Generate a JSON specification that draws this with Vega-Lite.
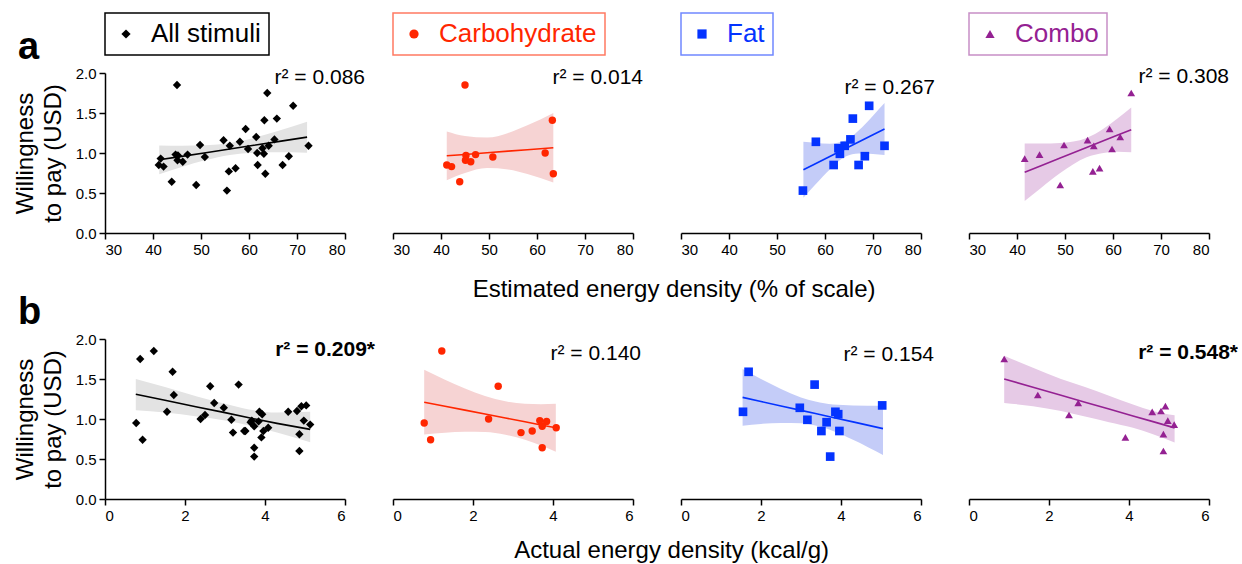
{
"$schema": "https://vega.github.io/schema/vega-lite/v6.json",
"padding": {"left": 13, "top": 12, "right": 0, "bottom": 0},
"background": "white",
"config": {
  "font": "Liberation Sans",
  "view": {"stroke": null},
  "axis": {"grid": false, "domainColor": "#000", "domainWidth": 1.5, "tickColor": "#000", "tickWidth": 1.5, "tickSize": 6, "labelFontSize": 15, "labelColor": "#000", "labelFont": "Liberation Sans", "titleFont": "Liberation Sans", "titleFontSize": 24, "titleFontWeight": "normal", "titleColor": "#000", "labelPadding": 3, "labelOverlap": false},
  "axisX": {"values": [30, 40, 50, 60, 70, 80], "title": null},
  "axisY": {"values": [0, 0.5, 1, 1.5, 2], "format": ".1f", "titlePadding": 10, "titleLineHeight": 28},
  "title": {"font": "Liberation Sans", "fontSize": 24, "fontWeight": "normal", "color": "#000"},
  "legend": {"title": null, "orient": "top", "offset": 18, "padding": 8, "labelFontSize": 26, "labelFont": "Liberation Sans", "labelOffset": 12, "symbolSize": 85, "symbolStrokeWidth": 0, "strokeWidth": 1.5}
},
"datasets": {
  "stim": [
    {"group": "Carbohydrate", "est": 45.0, "act": 1.22, "wtp": 1.85},
    {"group": "Carbohydrate", "est": 63.2, "act": 2.63, "wtp": 1.41},
    {"group": "Carbohydrate", "est": 61.7, "act": 2.39, "wtp": 1.00},
    {"group": "Carbohydrate", "est": 47.2, "act": 3.67, "wtp": 0.98},
    {"group": "Carbohydrate", "est": 45.2, "act": 3.84, "wtp": 0.97},
    {"group": "Carbohydrate", "est": 50.8, "act": 0.78, "wtp": 0.95},
    {"group": "Carbohydrate", "est": 45.1, "act": 3.73, "wtp": 0.91},
    {"group": "Carbohydrate", "est": 46.2, "act": 4.08, "wtp": 0.89},
    {"group": "Carbohydrate", "est": 41.2, "act": 3.48, "wtp": 0.85},
    {"group": "Carbohydrate", "est": 42.2, "act": 3.20, "wtp": 0.83},
    {"group": "Carbohydrate", "est": 63.4, "act": 0.94, "wtp": 0.74},
    {"group": "Carbohydrate", "est": 43.9, "act": 3.73, "wtp": 0.64},
    {"group": "Fat", "est": 69.2, "act": 1.69, "wtp": 1.59},
    {"group": "Fat", "est": 65.8, "act": 3.34, "wtp": 1.43},
    {"group": "Fat", "est": 65.3, "act": 5.03, "wtp": 1.17},
    {"group": "Fat", "est": 58.1, "act": 2.97, "wtp": 1.14},
    {"group": "Fat", "est": 72.4, "act": 1.55, "wtp": 1.09},
    {"group": "Fat", "est": 64.1, "act": 3.86, "wtp": 1.09},
    {"group": "Fat", "est": 62.8, "act": 3.93, "wtp": 1.06},
    {"group": "Fat", "est": 63.1, "act": 3.16, "wtp": 0.99},
    {"group": "Fat", "est": 68.3, "act": 3.64, "wtp": 0.96},
    {"group": "Fat", "est": 61.8, "act": 3.51, "wtp": 0.85},
    {"group": "Fat", "est": 67.0, "act": 3.96, "wtp": 0.85},
    {"group": "Fat", "est": 55.4, "act": 3.73, "wtp": 0.53},
    {"group": "Combo", "est": 63.8, "act": 0.88, "wtp": 1.75},
    {"group": "Combo", "est": 59.3, "act": 1.72, "wtp": 1.30},
    {"group": "Combo", "est": 61.5, "act": 2.73, "wtp": 1.20},
    {"group": "Combo", "est": 59.8, "act": 2.50, "wtp": 1.05},
    {"group": "Combo", "est": 54.7, "act": 4.91, "wtp": 1.16},
    {"group": "Combo", "est": 49.8, "act": 4.80, "wtp": 1.10},
    {"group": "Combo", "est": 56.0, "act": 4.58, "wtp": 1.09},
    {"group": "Combo", "est": 44.7, "act": 4.97, "wtp": 0.98},
    {"group": "Combo", "est": 41.6, "act": 5.13, "wtp": 0.93},
    {"group": "Combo", "est": 57.2, "act": 4.86, "wtp": 0.81},
    {"group": "Combo", "est": 55.8, "act": 3.91, "wtp": 0.77},
    {"group": "Combo", "est": 49.0, "act": 4.86, "wtp": 0.60}
  ],
  "band": [
    {"row": "a", "group": "All", "x": 41.3, "lo": 0.735, "hi": 1.095, "fit": 0.915},
    {"row": "a", "group": "All", "x": 46, "lo": 0.824, "hi": 1.092, "fit": 0.958},
    {"row": "a", "group": "All", "x": 51, "lo": 0.911, "hi": 1.097, "fit": 1.004},
    {"row": "a", "group": "All", "x": 56, "lo": 0.975, "hi": 1.125, "fit": 1.050},
    {"row": "a", "group": "All", "x": 61, "lo": 1.003, "hi": 1.189, "fit": 1.096},
    {"row": "a", "group": "All", "x": 66, "lo": 1.008, "hi": 1.276, "fit": 1.142},
    {"row": "a", "group": "All", "x": 72.1, "lo": 1.004, "hi": 1.392, "fit": 1.198},
    {"row": "a", "group": "Carbohydrate", "x": 41.2, "lo": 0.66, "hi": 1.27, "fit": 0.965},
    {"row": "a", "group": "Carbohydrate", "x": 45, "lo": 0.751, "hi": 1.213, "fit": 0.982},
    {"row": "a", "group": "Carbohydrate", "x": 49.6, "lo": 0.813, "hi": 1.193, "fit": 1.003},
    {"row": "a", "group": "Carbohydrate", "x": 54, "lo": 0.795, "hi": 1.251, "fit": 1.023},
    {"row": "a", "group": "Carbohydrate", "x": 58, "lo": 0.736, "hi": 1.346, "fit": 1.041},
    {"row": "a", "group": "Carbohydrate", "x": 63.4, "lo": 0.63, "hi": 1.50, "fit": 1.065},
    {"row": "a", "group": "Fat", "x": 55.5, "lo": 0.44, "hi": 1.14, "fit": 0.79},
    {"row": "a", "group": "Fat", "x": 58, "lo": 0.606, "hi": 1.126, "fit": 0.866},
    {"row": "a", "group": "Fat", "x": 61, "lo": 0.795, "hi": 1.117, "fit": 0.956},
    {"row": "a", "group": "Fat", "x": 64.3, "lo": 0.956, "hi": 1.156, "fit": 1.056},
    {"row": "a", "group": "Fat", "x": 67, "lo": 0.994, "hi": 1.28, "fit": 1.137},
    {"row": "a", "group": "Fat", "x": 70, "lo": 0.989, "hi": 1.467, "fit": 1.228},
    {"row": "a", "group": "Fat", "x": 72.4, "lo": 0.976, "hi": 1.624, "fit": 1.30},
    {"row": "a", "group": "Combo", "x": 41.6, "lo": 0.40, "hi": 1.12, "fit": 0.76},
    {"row": "a", "group": "Combo", "x": 45, "lo": 0.564, "hi": 1.118, "fit": 0.841},
    {"row": "a", "group": "Combo", "x": 49, "lo": 0.749, "hi": 1.125, "fit": 0.937},
    {"row": "a", "group": "Combo", "x": 54.5, "lo": 0.948, "hi": 1.188, "fit": 1.068},
    {"row": "a", "group": "Combo", "x": 58, "lo": 1.001, "hi": 1.303, "fit": 1.152},
    {"row": "a", "group": "Combo", "x": 61, "lo": 1.016, "hi": 1.434, "fit": 1.225},
    {"row": "a", "group": "Combo", "x": 63.8, "lo": 1.01, "hi": 1.57, "fit": 1.29},
    {"row": "b", "group": "All", "x": 0.77, "lo": 1.11, "hi": 1.50, "fit": 1.31},
    {"row": "b", "group": "All", "x": 1.5, "lo": 1.08, "hi": 1.40, "fit": 1.235},
    {"row": "b", "group": "All", "x": 2.3, "lo": 1.03, "hi": 1.28, "fit": 1.15},
    {"row": "b", "group": "All", "x": 3.0, "lo": 0.98, "hi": 1.19, "fit": 1.08},
    {"row": "b", "group": "All", "x": 3.6, "lo": 0.92, "hi": 1.12, "fit": 1.015},
    {"row": "b", "group": "All", "x": 4.3, "lo": 0.83, "hi": 1.08, "fit": 0.945},
    {"row": "b", "group": "All", "x": 5.13, "lo": 0.71, "hi": 1.09, "fit": 0.87},
    {"row": "b", "group": "Carbohydrate", "x": 0.78, "lo": 0.805, "hi": 1.615, "fit": 1.21},
    {"row": "b", "group": "Carbohydrate", "x": 1.3, "lo": 0.827, "hi": 1.491, "fit": 1.159},
    {"row": "b", "group": "Carbohydrate", "x": 1.8, "lo": 0.84, "hi": 1.382, "fit": 1.111},
    {"row": "b", "group": "Carbohydrate", "x": 2.3, "lo": 0.836, "hi": 1.288, "fit": 1.062},
    {"row": "b", "group": "Carbohydrate", "x": 2.81, "lo": 0.803, "hi": 1.221, "fit": 1.012},
    {"row": "b", "group": "Carbohydrate", "x": 3.3, "lo": 0.74, "hi": 1.19, "fit": 0.965},
    {"row": "b", "group": "Carbohydrate", "x": 3.7, "lo": 0.668, "hi": 1.184, "fit": 0.926},
    {"row": "b", "group": "Carbohydrate", "x": 4.07, "lo": 0.59, "hi": 1.19, "fit": 0.89},
    {"row": "b", "group": "Fat", "x": 1.54, "lo": 0.916, "hi": 1.624, "fit": 1.27},
    {"row": "b", "group": "Fat", "x": 2.0, "lo": 0.939, "hi": 1.499, "fit": 1.219},
    {"row": "b", "group": "Fat", "x": 2.5, "lo": 0.951, "hi": 1.375, "fit": 1.163},
    {"row": "b", "group": "Fat", "x": 3.0, "lo": 0.946, "hi": 1.27, "fit": 1.108},
    {"row": "b", "group": "Fat", "x": 3.36, "lo": 0.918, "hi": 1.218, "fit": 1.068},
    {"row": "b", "group": "Fat", "x": 3.8, "lo": 0.851, "hi": 1.18, "fit": 1.019},
    {"row": "b", "group": "Fat", "x": 4.3, "lo": 0.742, "hi": 1.17, "fit": 0.964},
    {"row": "b", "group": "Fat", "x": 5.05, "lo": 0.55, "hi": 1.165, "fit": 0.88},
    {"row": "b", "group": "Combo", "x": 0.88, "lo": 1.20, "hi": 1.79, "fit": 1.50},
    {"row": "b", "group": "Combo", "x": 1.6, "lo": 1.16, "hi": 1.64, "fit": 1.397},
    {"row": "b", "group": "Combo", "x": 2.3, "lo": 1.10, "hi": 1.50, "fit": 1.296},
    {"row": "b", "group": "Combo", "x": 2.9, "lo": 1.03, "hi": 1.40, "fit": 1.21},
    {"row": "b", "group": "Combo", "x": 3.5, "lo": 0.96, "hi": 1.29, "fit": 1.124},
    {"row": "b", "group": "Combo", "x": 4.1, "lo": 0.89, "hi": 1.18, "fit": 1.038},
    {"row": "b", "group": "Combo", "x": 4.6, "lo": 0.81, "hi": 1.10, "fit": 0.967},
    {"row": "b", "group": "Combo", "x": 5.14, "lo": 0.706, "hi": 1.046, "fit": 0.889}
  ],
  "stats": [
    {"row": "a", "group": "All", "label": "r² = 0.086"},
    {"row": "a", "group": "Carbohydrate", "label": "r² = 0.014"},
    {"row": "a", "group": "Fat", "label": "r² = 0.267"},
    {"row": "a", "group": "Combo", "label": "r² = 0.308"},
    {"row": "b", "group": "All", "label": "r² = 0.209*"},
    {"row": "b", "group": "Carbohydrate", "label": "r² = 0.140"},
    {"row": "b", "group": "Fat", "label": "r² = 0.154"},
    {"row": "b", "group": "Combo", "label": "r² = 0.548*"}
  ],
  "letters": [{"row": "a"}, {"row": "b"}]
},
"vconcat": [
 {
  "title": {"text": "Estimated energy density (% of scale)", "orient": "bottom", "anchor": "middle", "frame": "bounds", "offset": 21, "dx": 53},
  "bounds": "flush",
  "spacing": 48,
  "resolve": {"scale": {"color": "independent"}, "legend": {"color": "independent"}},
  "hconcat": [
   {"width": 240, "height": 160, "layer": [
     {"data": {"name": "band"}, "transform": [{"filter": "datum.row === 'a' && datum.group === 'All'"}],
      "mark": {"type": "area", "color": "#e3e3e3", "opacity": 1, "interpolate": "monotone"},
      "encoding": {"x": {"field": "x", "type": "quantitative", "scale": {"domain": [30, 80], "nice": false}, "title": null},
        "y": {"field": "lo", "type": "quantitative", "scale": {"domain": [0, 2], "nice": false}, "title": ["Willingness", "to pay (USD)"]}, "y2": {"field": "hi"}}},
     {"data": {"name": "band"}, "transform": [{"filter": "datum.row === 'a' && datum.group === 'All'"}],
      "mark": {"type": "line", "color": "#000", "strokeWidth": 1.6},
      "encoding": {"x": {"field": "x", "type": "quantitative", "title": null}, "y": {"field": "fit", "type": "quantitative", "title": ["Willingness", "to pay (USD)"]}}},
     {"data": {"name": "stim"},
      "mark": {"type": "point", "filled": true, "opacity": 1, "shape": "diamond", "size": 70},
      "encoding": {"x": {"field": "est", "type": "quantitative", "title": null},
        "y": {"field": "wtp", "type": "quantitative", "title": ["Willingness", "to pay (USD)"]},
        "color": {"datum": "All stimuli", "scale": {"range": ["#000000"]}, "legend": {"strokeColor": "#000000", "labelColor": "#000000", "symbolType": "diamond"}}}},
     {"data": {"name": "stats"}, "transform": [{"filter": "datum.row === 'a' && datum.group === 'All'"}],
      "mark": {"type": "text", "align": "right", "baseline": "alphabetic", "dx": 20, "dy": 11, "fontSize": 21, "color": "#000"},
      "encoding": {"x": {"datum": 80, "title": null}, "y": {"datum": 2, "title": ["Willingness", "to pay (USD)"]}, "text": {"field": "label"}}},
     {"data": {"name": "letters"}, "transform": [{"filter": "datum.row === 'a'"}],
      "mark": {"type": "text", "align": "left", "baseline": "alphabetic", "dx": -87, "dy": -14, "fontSize": 38, "fontWeight": "bold", "color": "#000"},
      "encoding": {"x": {"datum": 30, "title": null}, "y": {"datum": 2, "title": ["Willingness", "to pay (USD)"]}, "text": {"field": "row"}}}
   ]},
   {"width": 240, "height": 160, "layer": [
     {"data": {"name": "band"}, "transform": [{"filter": "datum.row === 'a' && datum.group === 'Carbohydrate'"}],
      "mark": {"type": "area", "color": "#f6d3d3", "opacity": 1, "interpolate": "monotone"},
      "encoding": {"x": {"field": "x", "type": "quantitative", "scale": {"domain": [30, 80], "nice": false}, "title": null}, "y": {"field": "lo", "type": "quantitative", "scale": {"domain": [0, 2], "nice": false}, "axis": null}, "y2": {"field": "hi"}}},
     {"data": {"name": "band"}, "transform": [{"filter": "datum.row === 'a' && datum.group === 'Carbohydrate'"}],
      "mark": {"type": "line", "color": "#ff2600", "strokeWidth": 1.6},
      "encoding": {"x": {"field": "x", "type": "quantitative", "title": null}, "y": {"field": "fit", "type": "quantitative", "axis": null}}},
     {"data": {"name": "stim"}, "transform": [{"filter": "datum.group === 'Carbohydrate'"}],
      "mark": {"type": "point", "filled": true, "opacity": 1, "shape": "circle", "size": 55},
      "encoding": {"x": {"field": "est", "type": "quantitative", "title": null},
        "y": {"field": "wtp", "type": "quantitative", "axis": null},
        "color": {"datum": "Carbohydrate", "scale": {"range": ["#ff2600"]}, "legend": {"strokeColor": "#ff7a62", "labelColor": "#ff2600", "symbolType": "circle"}}}},
     {"data": {"name": "stats"}, "transform": [{"filter": "datum.row === 'a' && datum.group === 'Carbohydrate'"}],
      "mark": {"type": "text", "align": "right", "baseline": "alphabetic", "dx": 10, "dy": 11, "fontSize": 21, "color": "#000"},
      "encoding": {"x": {"datum": 80, "title": null}, "y": {"datum": 2, "axis": null}, "text": {"field": "label"}}}
   ]},
   {"width": 240, "height": 160, "layer": [
     {"data": {"name": "band"}, "transform": [{"filter": "datum.row === 'a' && datum.group === 'Fat'"}],
      "mark": {"type": "area", "color": "#c4ccf8", "opacity": 1, "interpolate": "monotone"},
      "encoding": {"x": {"field": "x", "type": "quantitative", "scale": {"domain": [30, 80], "nice": false}, "title": null}, "y": {"field": "lo", "type": "quantitative", "scale": {"domain": [0, 2], "nice": false}, "axis": null}, "y2": {"field": "hi"}}},
     {"data": {"name": "band"}, "transform": [{"filter": "datum.row === 'a' && datum.group === 'Fat'"}],
      "mark": {"type": "line", "color": "#0433ff", "strokeWidth": 1.6},
      "encoding": {"x": {"field": "x", "type": "quantitative", "title": null}, "y": {"field": "fit", "type": "quantitative", "axis": null}}},
     {"data": {"name": "stim"}, "transform": [{"filter": "datum.group === 'Fat'"}],
      "mark": {"type": "point", "filled": true, "opacity": 1, "shape": "square", "size": 75},
      "encoding": {"x": {"field": "est", "type": "quantitative", "title": null},
        "y": {"field": "wtp", "type": "quantitative", "axis": null},
        "color": {"datum": "Fat", "scale": {"range": ["#0433ff"]}, "legend": {"strokeColor": "#7088ff", "labelColor": "#0433ff", "symbolType": "square"}}}},
     {"data": {"name": "stats"}, "transform": [{"filter": "datum.row === 'a' && datum.group === 'Fat'"}],
      "mark": {"type": "text", "align": "right", "baseline": "alphabetic", "dx": 14, "dy": 21, "fontSize": 21, "color": "#000"},
      "encoding": {"x": {"datum": 80, "title": null}, "y": {"datum": 2, "axis": null}, "text": {"field": "label"}}}
   ]},
   {"width": 240, "height": 160, "layer": [
     {"data": {"name": "band"}, "transform": [{"filter": "datum.row === 'a' && datum.group === 'Combo'"}],
      "mark": {"type": "area", "color": "#e6cae6", "opacity": 1, "interpolate": "monotone"},
      "encoding": {"x": {"field": "x", "type": "quantitative", "scale": {"domain": [30, 80], "nice": false}, "title": null}, "y": {"field": "lo", "type": "quantitative", "scale": {"domain": [0, 2], "nice": false}, "axis": null}, "y2": {"field": "hi"}}},
     {"data": {"name": "band"}, "transform": [{"filter": "datum.row === 'a' && datum.group === 'Combo'"}],
      "mark": {"type": "line", "color": "#942192", "strokeWidth": 1.6},
      "encoding": {"x": {"field": "x", "type": "quantitative", "title": null}, "y": {"field": "fit", "type": "quantitative", "axis": null}}},
     {"data": {"name": "stim"}, "transform": [{"filter": "datum.group === 'Combo'"}],
      "mark": {"type": "point", "filled": true, "opacity": 1, "shape": "triangle-up", "size": 60},
      "encoding": {"x": {"field": "est", "type": "quantitative", "title": null},
        "y": {"field": "wtp", "type": "quantitative", "axis": null},
        "color": {"datum": "Combo", "scale": {"range": ["#942192"]}, "legend": {"strokeColor": "#c78fc6", "labelColor": "#942192", "symbolType": "triangle-up"}}}},
     {"data": {"name": "stats"}, "transform": [{"filter": "datum.row === 'a' && datum.group === 'Combo'"}],
      "mark": {"type": "text", "align": "right", "baseline": "alphabetic", "dx": 20, "dy": 10, "fontSize": 21, "color": "#000"},
      "encoding": {"x": {"datum": 80, "title": null}, "y": {"datum": 2, "axis": null}, "text": {"field": "label"}}}
   ]}
  ]
 },
 {
  "title": {"text": "Actual energy density (kcal/g)", "orient": "bottom", "anchor": "middle", "frame": "bounds", "offset": 16, "dx": 46},
  "bounds": "flush",
  "spacing": 48,
  "hconcat": [
   {"width": 240, "height": 160, "layer": [
     {"data": {"name": "band"}, "transform": [{"filter": "datum.row === 'b' && datum.group === 'All'"}],
      "mark": {"type": "area", "color": "#e3e3e3", "opacity": 1, "interpolate": "monotone"},
      "encoding": {"x": {"field": "x", "type": "quantitative", "scale": {"domain": [0, 6], "nice": false}, "axis": {"values": [0, 2, 4, 6]}, "title": null},
        "y": {"field": "lo", "type": "quantitative", "scale": {"domain": [0, 2], "nice": false}, "title": ["Willingness", "to pay (USD)"]}, "y2": {"field": "hi"}}},
     {"data": {"name": "band"}, "transform": [{"filter": "datum.row === 'b' && datum.group === 'All'"}],
      "mark": {"type": "line", "color": "#000", "strokeWidth": 1.6},
      "encoding": {"x": {"field": "x", "type": "quantitative", "title": null}, "y": {"field": "fit", "type": "quantitative", "title": ["Willingness", "to pay (USD)"]}}},
     {"data": {"name": "stim"},
      "mark": {"type": "point", "filled": true, "opacity": 1, "shape": "diamond", "size": 70, "color": "#000"},
      "encoding": {"x": {"field": "act", "type": "quantitative", "title": null},
        "y": {"field": "wtp", "type": "quantitative", "title": ["Willingness", "to pay (USD)"]}}},
     {"data": {"name": "stats"}, "transform": [{"filter": "datum.row === 'b' && datum.group === 'All'"}],
      "mark": {"type": "text", "align": "right", "baseline": "alphabetic", "dx": 30, "dy": 17, "fontSize": 21, "fontWeight": "bold", "color": "#000"},
      "encoding": {"x": {"datum": 6, "title": null}, "y": {"datum": 2, "title": ["Willingness", "to pay (USD)"]}, "text": {"field": "label"}}},
     {"data": {"name": "letters"}, "transform": [{"filter": "datum.row === 'b'"}],
      "mark": {"type": "text", "align": "left", "baseline": "alphabetic", "dx": -87, "dy": -15, "fontSize": 38, "fontWeight": "bold", "color": "#000"},
      "encoding": {"x": {"datum": 0, "title": null}, "y": {"datum": 2, "title": ["Willingness", "to pay (USD)"]}, "text": {"field": "row"}}}
   ]},
   {"width": 240, "height": 160, "layer": [
     {"data": {"name": "band"}, "transform": [{"filter": "datum.row === 'b' && datum.group === 'Carbohydrate'"}],
      "mark": {"type": "area", "color": "#f6d3d3", "opacity": 1, "interpolate": "monotone"},
      "encoding": {"x": {"field": "x", "type": "quantitative", "scale": {"domain": [0, 6], "nice": false}, "axis": {"values": [0, 2, 4, 6]}, "title": null}, "y": {"field": "lo", "type": "quantitative", "scale": {"domain": [0, 2], "nice": false}, "axis": null}, "y2": {"field": "hi"}}},
     {"data": {"name": "band"}, "transform": [{"filter": "datum.row === 'b' && datum.group === 'Carbohydrate'"}],
      "mark": {"type": "line", "color": "#ff2600", "strokeWidth": 1.6},
      "encoding": {"x": {"field": "x", "type": "quantitative", "title": null}, "y": {"field": "fit", "type": "quantitative", "axis": null}}},
     {"data": {"name": "stim"}, "transform": [{"filter": "datum.group === 'Carbohydrate'"}],
      "mark": {"type": "point", "filled": true, "opacity": 1, "shape": "circle", "size": 55, "color": "#ff2600"},
      "encoding": {"x": {"field": "act", "type": "quantitative", "title": null},
        "y": {"field": "wtp", "type": "quantitative", "axis": null}}},
     {"data": {"name": "stats"}, "transform": [{"filter": "datum.row === 'b' && datum.group === 'Carbohydrate'"}],
      "mark": {"type": "text", "align": "right", "baseline": "alphabetic", "dx": 8, "dy": 21, "fontSize": 21, "color": "#000"},
      "encoding": {"x": {"datum": 6, "title": null}, "y": {"datum": 2, "axis": null}, "text": {"field": "label"}}}
   ]},
   {"width": 240, "height": 160, "layer": [
     {"data": {"name": "band"}, "transform": [{"filter": "datum.row === 'b' && datum.group === 'Fat'"}],
      "mark": {"type": "area", "color": "#c4ccf8", "opacity": 1, "interpolate": "monotone"},
      "encoding": {"x": {"field": "x", "type": "quantitative", "scale": {"domain": [0, 6], "nice": false}, "axis": {"values": [0, 2, 4, 6]}, "title": null}, "y": {"field": "lo", "type": "quantitative", "scale": {"domain": [0, 2], "nice": false}, "axis": null}, "y2": {"field": "hi"}}},
     {"data": {"name": "band"}, "transform": [{"filter": "datum.row === 'b' && datum.group === 'Fat'"}],
      "mark": {"type": "line", "color": "#0433ff", "strokeWidth": 1.6},
      "encoding": {"x": {"field": "x", "type": "quantitative", "title": null}, "y": {"field": "fit", "type": "quantitative", "axis": null}}},
     {"data": {"name": "stim"}, "transform": [{"filter": "datum.group === 'Fat'"}],
      "mark": {"type": "point", "filled": true, "opacity": 1, "shape": "square", "size": 75, "color": "#0433ff"},
      "encoding": {"x": {"field": "act", "type": "quantitative", "title": null},
        "y": {"field": "wtp", "type": "quantitative", "axis": null}}},
     {"data": {"name": "stats"}, "transform": [{"filter": "datum.row === 'b' && datum.group === 'Fat'"}],
      "mark": {"type": "text", "align": "right", "baseline": "alphabetic", "dx": 13, "dy": 22, "fontSize": 21, "color": "#000"},
      "encoding": {"x": {"datum": 6, "title": null}, "y": {"datum": 2, "axis": null}, "text": {"field": "label"}}}
   ]},
   {"width": 240, "height": 160, "layer": [
     {"data": {"name": "band"}, "transform": [{"filter": "datum.row === 'b' && datum.group === 'Combo'"}],
      "mark": {"type": "area", "color": "#e6cae6", "opacity": 1, "interpolate": "monotone"},
      "encoding": {"x": {"field": "x", "type": "quantitative", "scale": {"domain": [0, 6], "nice": false}, "axis": {"values": [0, 2, 4, 6]}, "title": null}, "y": {"field": "lo", "type": "quantitative", "scale": {"domain": [0, 2], "nice": false}, "axis": null}, "y2": {"field": "hi"}}},
     {"data": {"name": "band"}, "transform": [{"filter": "datum.row === 'b' && datum.group === 'Combo'"}],
      "mark": {"type": "line", "color": "#942192", "strokeWidth": 1.6},
      "encoding": {"x": {"field": "x", "type": "quantitative", "title": null}, "y": {"field": "fit", "type": "quantitative", "axis": null}}},
     {"data": {"name": "stim"}, "transform": [{"filter": "datum.group === 'Combo'"}],
      "mark": {"type": "point", "filled": true, "opacity": 1, "shape": "triangle-up", "size": 60, "color": "#942192"},
      "encoding": {"x": {"field": "act", "type": "quantitative", "title": null},
        "y": {"field": "wtp", "type": "quantitative", "axis": null}}},
     {"data": {"name": "stats"}, "transform": [{"filter": "datum.row === 'b' && datum.group === 'Combo'"}],
      "mark": {"type": "text", "align": "right", "baseline": "alphabetic", "dx": 29, "dy": 20, "fontSize": 21, "fontWeight": "bold", "color": "#000"},
      "encoding": {"x": {"datum": 6, "title": null}, "y": {"datum": 2, "axis": null}, "text": {"field": "label"}}}
   ]}
  ]
 }
],
"spacing": -8
}
